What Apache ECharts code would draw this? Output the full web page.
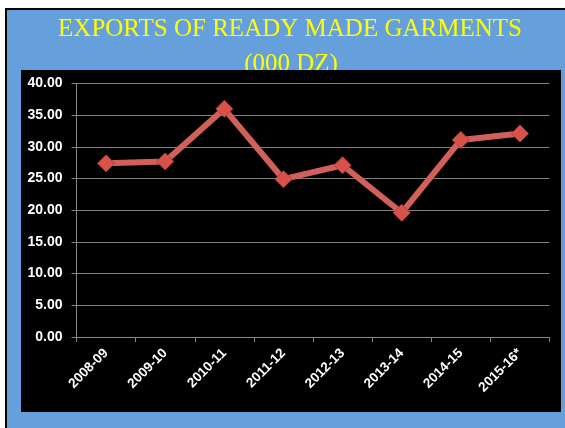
<!doctype html>
<html lang="en">

<head>
	<meta charset="UTF-8">
	<title>Exports of Ready Made Garments</title>
	<script src="https://cdn.jsdelivr.net/npm/echarts@6/dist/echarts.min.js"></script>
	<style>
		body { margin: 0; background: #fff; }
		#chart { width: 565px; height: 428px; }
	</style>
</head>

<body>
	<div id="chart"></div>

	<script>
		// data
		var years = ['2008-09', '2009-10', '2010-11', '2011-12', '2012-13', '2013-14', '2014-15', '2015-16*'];
		var exportsDz = [27.4, 27.7, 36.0, 24.9, 27.1, 19.6, 31.1, 32.1];
		var yTicks = [0, 5, 10, 15, 20, 25, 30, 35, 40];

		var chart = echarts.init(document.getElementById('chart'));

		var titleFont = {
			color: '#ffff00',
			fontFamily: '"Liberation Serif", "Times New Roman", serif',
			fontSize: 25,
			fontWeight: 'normal'
		};

		option = {
			animation: false,
			backgroundColor: '#ffffff',
			title: [
				{ text: 'EXPORTS OF READY MADE GARMENTS', left: 285, top: 12, textAlign: 'center', z: 1, textStyle: titleFont },
				{ text: '(000 DZ)', left: 286, top: 47, textAlign: 'center', z: 1, textStyle: titleFont }
			],
			graphic: [
				{ type: 'rect', z: 0, shape: { x: 5, y: 8, width: 560, height: 420 }, style: { fill: '#000' } },
				{ type: 'rect', z: 0, shape: { x: 7, y: 10, width: 558, height: 418 }, style: { fill: '#65a0dc' } },
				{ type: 'rect', z: 2, shape: { x: 21, y: 70, width: 540, height: 342 }, style: { fill: '#000' } }
			],
			grid: { left: 76.5, right: 15.5, top: 83.5, bottom: 91 },
			xAxis: {
				type: 'category',
				data: years,
				z: 3,
				axisLine: { lineStyle: { color: '#868686', width: 1 } },
				axisTick: { show: true, length: 5, lineStyle: { color: '#868686' } },
				axisLabel: {
					rotate: 45,
					margin: 14,
					color: '#fff',
					fontWeight: 'bold',
					fontSize: 13.5,
					fontFamily: '"Liberation Sans", Arial, sans-serif'
				}
			},
			yAxis: {
				type: 'value',
				min: yTicks[0],
				max: yTicks[yTicks.length - 1],
				interval: 5,
				z: 3,
				axisLine: { show: true, lineStyle: { color: '#868686', width: 1 } },
				axisTick: { show: true, length: 5, lineStyle: { color: '#868686' } },
				splitLine: { lineStyle: { color: '#808080', width: 1 } },
				axisLabel: {
					margin: 14,
					color: '#fff',
					fontWeight: 'bold',
					fontSize: 14,
					fontFamily: '"Liberation Sans", Arial, sans-serif',
					formatter: function (v) { return v.toFixed(2); }
				}
			},
			series: [
				{
					type: 'line',
					z: 4,
					data: exportsDz,
					symbol: 'diamond',
					symbolSize: 17,
					lineStyle: { color: '#d2605a', width: 6 },
					itemStyle: { color: '#d9524a', borderColor: '#a8423d', borderWidth: 1 }
				}
			]
		};

		chart.setOption(option);
	</script>
</body>

</html>
